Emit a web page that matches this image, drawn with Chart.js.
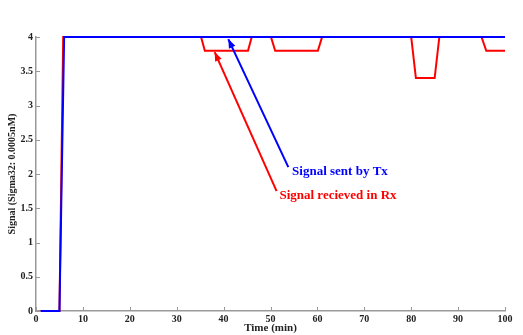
<!DOCTYPE html>
<html>
<head>
<meta charset="utf-8">
<script src="https://cdn.jsdelivr.net/npm/chart.js@4.4.0/dist/chart.umd.min.js"></script>
<style>
  html, body { margin: 0; padding: 0; background: #fff; }
  #wrap { width: 523px; height: 335px; }
</style>
</head>
<body>
<div id="wrap"><canvas id="myChart" width="523" height="335"></canvas></div>
<script>
// datos
const txTime = [1, 5, 6, 100];
const txSignal = [0, 0, 4, 4];
const rxTime = [1, 5, 5.8, 35.2, 36, 45.2, 46, 50.1, 51, 60.1, 61, 80, 81, 85, 86, 95, 96, 100];
const rxSignal = [0, 0, 4, 4, 3.8, 3.8, 4, 4, 3.8, 3.8, 4, 4, 3.4, 3.4, 4, 4, 3.8, 3.8];
const xTicks = [0, 10, 20, 30, 40, 50, 60, 70, 80, 90, 100];
const yTicks = [0, 0.5, 1, 1.5, 2, 2.5, 3, 3.5, 4];

const serif = '"Liberation Serif", "Times New Roman", serif';

// flechas con texto (coordenadas en unidades de los ejes)
const notes = [
    { text: 'Signal sent by Tx', color: '#0000ff', from: [53.8, 2.10], to: [41.0, 3.97], label: [54.6, 2.04] },
    { text: 'Signal recieved in Rx', color: '#ff0000', from: [51.3, 1.75], to: [38.1, 3.78], label: [51.9, 1.68] }
];

function toPoints(xs, ys) {
    return xs.map((x, i) => ({ x: x, y: ys[i] }));
}

// ticks hacia dentro y anotaciones
const extras = {
    id: 'extras',
    afterDraw(chart) {
        const ctx = chart.ctx;
        const xs = chart.scales.x, ys = chart.scales.y;
        const a = chart.chartArea;
        ctx.save();
        ctx.strokeStyle = '#999';
        ctx.lineWidth = 1;
        ctx.beginPath();
        xTicks.forEach(v => {
            const px = Math.round(xs.getPixelForValue(v)) + 0.5;
            ctx.moveTo(px, a.bottom);
            ctx.lineTo(px, a.bottom - 4);
        });
        yTicks.forEach(v => {
            const py = Math.round(ys.getPixelForValue(v)) + 0.5;
            ctx.moveTo(a.left, py);
            ctx.lineTo(a.left + 4, py);
        });
        ctx.stroke();

        notes.forEach(n => {
            const x1 = xs.getPixelForValue(n.from[0]), y1 = ys.getPixelForValue(n.from[1]);
            const x2 = xs.getPixelForValue(n.to[0]), y2 = ys.getPixelForValue(n.to[1]);
            ctx.strokeStyle = n.color;
            ctx.fillStyle = n.color;
            ctx.lineWidth = 2;
            ctx.beginPath();
            ctx.moveTo(x1, y1);
            ctx.lineTo(x2, y2);
            ctx.stroke();
            const ang = Math.atan2(y2 - y1, x2 - x1);
            const len = 9, w = 3.5;
            ctx.beginPath();
            ctx.moveTo(x2, y2);
            ctx.lineTo(x2 - len * Math.cos(ang) + w * Math.sin(ang), y2 - len * Math.sin(ang) - w * Math.cos(ang));
            ctx.lineTo(x2 - len * Math.cos(ang) - w * Math.sin(ang), y2 - len * Math.sin(ang) + w * Math.cos(ang));
            ctx.closePath();
            ctx.fill();
            ctx.font = 'bold 13px ' + serif;
            ctx.textBaseline = 'middle';
            ctx.textAlign = 'left';
            ctx.fillText(n.text, xs.getPixelForValue(n.label[0]), ys.getPixelForValue(n.label[1]));
        });
        ctx.restore();
    }
};

const ctx = document.getElementById('myChart').getContext('2d');
const myChart = new Chart(ctx, {
    type: 'line',
    data: {
        datasets: [{
            label: 'Tx',
            data: toPoints(txTime, txSignal),
            borderColor: '#0000ff',
            borderWidth: 2,
            pointRadius: 0,
            tension: 0,
            clip: false,
            order: 0
        }, {
            label: 'Rx',
            data: toPoints(rxTime, rxSignal),
            borderColor: '#ff0000',
            borderWidth: 2,
            pointRadius: 0,
            tension: 0,
            clip: false,
            order: 1
        }]
    },
    options: {
        responsive: false,
        animation: false,
        layout: { padding: { top: 37, right: 18, left: 0, bottom: 0 } },
        plugins: { legend: { display: false }, tooltip: { enabled: false } },
        scales: {
            x: {
                type: 'linear',
                min: 0,
                max: 100,
                afterBuildTicks: s => { s.ticks = xTicks.map(v => ({ value: v })); },
                afterFit: s => { s.height = 24; },
                grid: { display: true, drawOnChartArea: false, drawTicks: false },
                border: { color: '#999', width: 1.5 },
                ticks: { color: '#222', padding: 2, maxRotation: 0, font: { family: serif, size: 10, weight: 'bold' } },
                title: { display: true, text: 'Time (min)', color: '#222', padding: 0, font: { family: serif, size: 11, weight: 'bold' } }
            },
            y: {
                min: 0,
                max: 4,
                afterBuildTicks: s => { s.ticks = yTicks.map(v => ({ value: v })); },
                afterFit: s => { s.width = 36; },
                grid: { display: true, drawOnChartArea: false, drawTicks: false },
                border: { color: '#999', width: 1.5 },
                ticks: { color: '#222', padding: 3, callback: v => String(v), font: { family: serif, size: 10, weight: 'bold' } },
                title: { display: true, text: 'Signal (Sigma32: 0.0005nM)', color: '#222', padding: { top: 6, bottom: 0 }, font: { family: serif, size: 10, weight: 'bold' } }
            }
        }
    },
    plugins: [extras]
});
</script>
</body>
</html>
